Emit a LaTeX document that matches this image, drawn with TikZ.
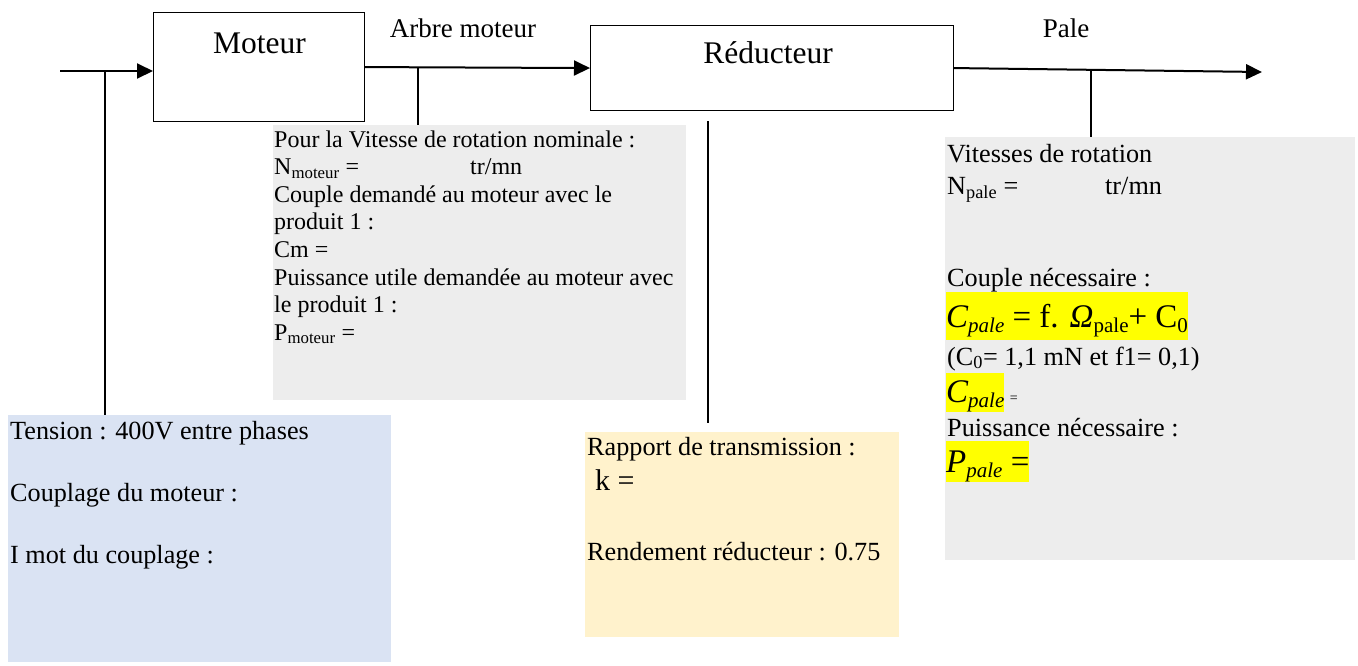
\documentclass[tikz,border=0pt]{standalone}
\usepackage{fontspec}
\setmainfont{Liberation Serif}
\usetikzlibrary{arrows.meta}
\definecolor{panelgray}{HTML}{EDEDED}
\definecolor{panelblue}{HTML}{DAE3F3}
\definecolor{panelyellow}{HTML}{FFF2CC}
\definecolor{marker}{HTML}{FFFF00}
\newcommand\hlbox[3]{{\setlength\fboxsep{0pt}\colorbox{marker}{\rule[-#2]{0pt}{\dimexpr#1+#2\relax}#3}}}
\newcommand\lowtext[1]{\raisebox{-0.17em}{\fontsize{21}{22}\selectfont #1}}
\begin{document}
\begin{tikzpicture}[x=1pt,y=-1pt,
  blk/.style={draw=black, line width=1.1pt, fill=white, inner sep=0pt, anchor=north west},
  panel/.style={inner sep=0pt, anchor=north west, draw=none},
  small/.style={anchor=base west, inner sep=0pt, font=\fontsize{24}{27.6}\selectfont},
  body/.style={anchor=base west, inner sep=0pt, font=\fontsize{26.2}{30.1}\selectfont},
  big/.style={anchor=base west, inner sep=0pt, font=\fontsize{33}{38}\selectfont},
  head/.style={anchor=base, inner sep=0pt, font=\fontsize{31.5}{36}\selectfont},
  side/.style={anchor=base, inner sep=0pt, font=\fontsize{27}{31}\selectfont},
  flow/.style={line width=2pt, -{Triangle[length=16pt,width=15pt]}},
  tie/.style={line width=1.3pt}]
\useasboundingbox (0,0) rectangle (1358,665);
\fill[white] (0,0) rectangle (1358,665);

% panels
\node[panel, fill=panelgray, minimum width=413pt, minimum height=275pt] (pmot) at (273,125) {};
\node[panel, fill=panelgray, minimum width=410pt, minimum height=423pt] (ppale) at (945,137) {};
\node[panel, fill=panelblue, minimum width=383pt, minimum height=247pt] (pelec) at (8,415) {};
\node[panel, fill=panelyellow, minimum width=314pt, minimum height=205pt] (pred) at (585,432) {};

% blocks
\node[blk, minimum width=211pt, minimum height=109pt] (moteur) at (153,12) {};
\node[blk, minimum width=363pt, minimum height=85pt] (reduc) at (590,25) {};
\node[head] (moteurlbl) at (259.5,53) {Moteur};
\node[head] (reduclbl) at (768,63) {Réducteur};
\node[side] (arbre) at (463,37) {Arbre moteur};
\node[side] (pale) at (1066,37) {Pale};

% connectors
\coordinate (in) at (60,71);
\coordinate (j1) at (105,71);
\coordinate (j2) at (418,67);
\coordinate (j3) at (1091,70);
\coordinate (out) at (1262,72);
\coordinate (j4a) at (708,121);
\coordinate (j4b) at (708,423);
\draw[flow] (in) -- (in -| moteur.west);
\draw[tie] (j1) -- (j1 |- pelec.north);
\draw[flow] (moteur.east) -- (reduc.west);
\draw[tie] (j2) -- (j2 |- pmot.north);
\draw[flow] (reduc.east) -- (out);
\draw[tie] (j3) -- (j3 |- ppale.north);
\draw[tie] (j4a) -- (j4b);

% motor shaft panel
\node[small] (m1) at (274,147) {Pour la Vitesse de rotation nominale :};
\node[small] (m2) at (274,174.6) {N\textsubscript{moteur} =};
\node[small] (m2b) at (470,174.6) {tr/mn};
\node[small] (m3) at (274,202.2) {Couple demandé au moteur avec le};
\node[small] (m4) at (274,229.8) {produit 1 :};
\node[small] (m5) at (274,257.4) {Cm =};
\node[small] (m6) at (274,285) {Puissance utile demandée au moteur avec};
\node[small] (m7) at (274,312.6) {le produit 1 :};
\node[small] (m8) at (274,340.2) {P\textsubscript{moteur} =};

% blade panel
\node[body] (p1) at (947,162) {Vitesses de rotation};
\node[body] (p2) at (947,194) {N\textsubscript{pale} =};
\node[body] (p2b) at (1105,194) {tr/mn};
\node[body] (p3) at (947,286) {Couple nécessaire :};
\node[big] (p4) at (946,327) {\hlbox{35pt}{13pt}{\textit{C\lowtext{pale}} = f. \textit{Ω}\lowtext{pale}+ C\lowtext{0}}};
\node[body] (p5) at (947,365) {(C\textsubscript{0}= 1,1 mN et f1= 0,1)};
\node[big] (p6) at (946,402) {\hlbox{29pt}{9pt}{\textit{C\lowtext{pale}}}\,{\fontsize{14}{16}\selectfont =}};
\node[body] (p7) at (947,436) {Puissance nécessaire :};
\node[big] (p8) at (946,472) {\hlbox{31pt}{9pt}{\textit{P\lowtext{pale}} =}};

% supply panel
\node[body] (e1) at (10,439) {Tension : 400V entre phases};
\node[body] (e2) at (10,501) {Couplage du moteur :};
\node[body] (e3) at (10,563) {I mot du couplage :};

% reducer panel
\node[body] (r1) at (587,455) {Rapport de transmission :};
\node[body, font=\fontsize{30}{34}\selectfont] (r2) at (595,490) {k =};
\node[body] (r3) at (587,560) {Rendement réducteur : 0.75};
\end{tikzpicture}
\end{document}
